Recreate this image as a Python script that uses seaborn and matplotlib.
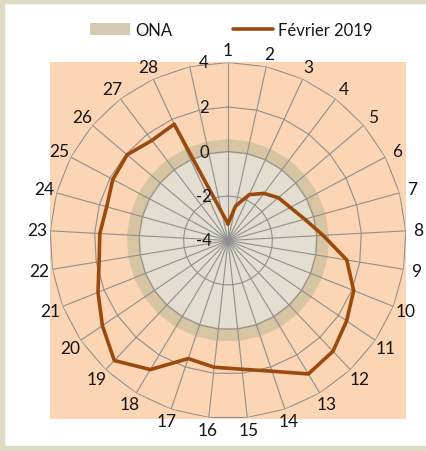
import numpy as np
import pandas as pd
import matplotlib
matplotlib.use("Agg")
import matplotlib.pyplot as plt
import matplotlib.transforms as mtransforms
from matplotlib.patches import Rectangle, Patch
from matplotlib.lines import Line2D
import seaborn as sns

# ---- data ----
categories = ["1", "2", "3", "4", "5", "6", "7", "8", "9", "10", "11", "12", "13", "14",
              "15", "16", "17", "18", "19", "20", "21", "22", "23", "24", "25", "26",
              "27", "28", ""]
fevrier_2019 = [-3.25, -2.41, -1.73, -1.34, -1.03, -0.83, -0.42, 0.28, 1.41, 2.08,
                2.44, 2.86, 3.00, 2.20, 1.82, 1.73, 1.60, 2.77, 3.43, 2.82,
                2.29, 1.87, 1.77, 1.66, 1.86, 1.95, 1.65, 1.76]
ona = [0.25, 0.25, 0.25, 0.25, 0.25, 0.25, 0.25, 0.25, 0.25, 0.25,
       0.25, 0.25, 0.25, 0.25, 0.25, 0.25, 0.25, 0.25, 0.25, 0.25,
       0.25, 0.25, 0.25, 0.25, 0.25, 0.25, 0.25, 0.25, 0.25]
radial_ticks = [-4, -2, 0, 2, 4]
series_names = ["ONA", "Février 2019"]

# ---- style ----
sns.set_style("white")
plt.rcParams["font.family"] = ["Lato", "DejaVu Sans"]

LINE_COLOR = "#9a4a0c"
GRID_COLOR = "#8f8f8f"
PEACH = "#fcd5b5"
ONA_FILL = "#e4ded1"
ONA_RING = "#d7c4a2"
TEXT = "#151515"

W, H = 426, 452
fig = plt.figure(figsize=(W / 100, H / 100), dpi=100)
fig.patch.set_facecolor("white")

# outer beige frame (left, top, bottom)
fig.patches.append(Rectangle((0, 0), 1.1, 1, transform=fig.transFigure, fill=False,
                             edgecolor="#ddd9c3", linewidth=7.5, zorder=-2))

# peach plot area (background axes)
rect = [50 / W, (H - 420) / H, 356 / W, 357 / H]
bg = fig.add_axes(rect, zorder=-1)
bg.set_facecolor(PEACH)
bg.set_xticks([])
bg.set_yticks([])
for s in bg.spines.values():
    s.set_visible(False)

ax = fig.add_axes(rect, projection="polar", zorder=1)
ax.set_facecolor("none")
ax.set_theta_zero_location("N")
ax.set_theta_direction(-1)
ax.set_ylim(radial_ticks[0], radial_ticks[-1])
ax.spines["polar"].set_visible(False)
ax.set_axisbelow(False)

n = len(categories)
theta = np.arange(n) * 2 * np.pi / n
theta_closed = np.append(theta, theta[0])

# spokes via theta grid
ax.set_xticks(theta)
ax.set_xticklabels([])
ax.xaxis.grid(True, color=GRID_COLOR, linewidth=0.8)
ax.set_yticks([])
ax.yaxis.grid(False)

# polygonal rings
for rv in radial_ticks[1:]:
    ax.plot(theta_closed, np.full(n + 1, rv), color=GRID_COLOR, linewidth=0.8, zorder=2.6)

# ONA filled area
ona_closed = np.append(ona, ona[0])
ax.fill(theta_closed, ona_closed, color=ONA_FILL, zorder=1, linewidth=0)
ax.plot(theta_closed, ona_closed, color=ONA_RING, linewidth=9.5, zorder=1.5,
        solid_joinstyle="miter")

# Février 2019 line (category 29 blank)
m = len(fevrier_2019)
df = pd.DataFrame({"theta": np.append(theta[:m], theta[0]),
                   "value": fevrier_2019 + [fevrier_2019[0]]})
sns.lineplot(data=df, x="theta", y="value", sort=False, estimator=None, color=LINE_COLOR,
             linewidth=2.6, ax=ax, legend=False, zorder=3)
ax.set_xlabel("")
ax.set_ylabel("")
ax.set_ylim(radial_ticks[0], radial_ticks[-1])

# category labels
for t, lab in zip(theta, categories):
    ax.text(t, 4.58, lab, ha="center", va="center", fontsize=12.5, color=TEXT,
            clip_on=False)

# radial labels
off = mtransforms.offset_copy(ax.transData, fig=fig, x=-24, y=0, units="dots")
for v in radial_ticks:
    ax.text(0, v, str(v), transform=off, ha="center", va="center", fontsize=12,
            color=TEXT, zorder=4, clip_on=False)

# legend
handles = [Patch(facecolor="#d6cab1", edgecolor="none"),
           Line2D([], [], color=LINE_COLOR, linewidth=2.6)]
fig.legend(handles, series_names, loc="center", bbox_to_anchor=(0.543, 1 - 31 / H),
           ncol=2, frameon=False, fontsize=12, handlelength=2.4, handletextpad=0.35,
           columnspacing=3.6, labelcolor=TEXT)

fig.savefig("out.png", dpi=100, facecolor=fig.get_facecolor())
